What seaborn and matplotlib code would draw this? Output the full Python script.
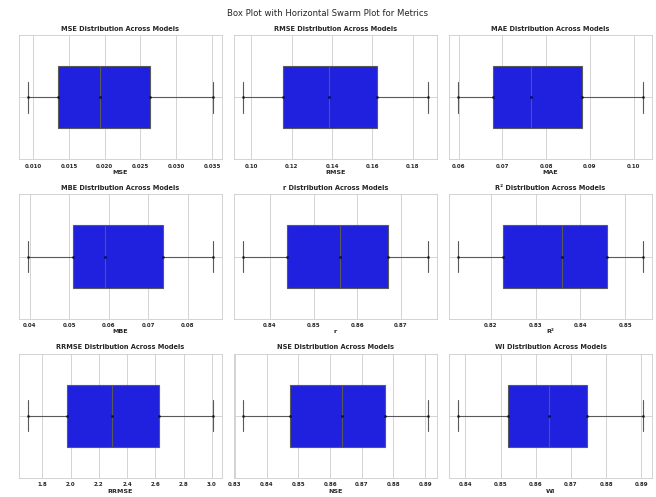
import matplotlib
matplotlib.use("Agg")
import matplotlib.pyplot as plt
import seaborn as sns
import pandas as pd

metrics = ["MSE", "RMSE", "MAE", "MBE", "r", "R²", "RRMSE", "NSE", "WI"]

mse = [0.0093, 0.0135, 0.0193, 0.0264, 0.0351]
rmse = [0.0960, 0.1159, 0.1385, 0.1621, 0.1874]
mae = [0.0599, 0.0678, 0.0765, 0.0881, 0.1021]
mbe = [0.0396, 0.0510, 0.0590, 0.0738, 0.0863]
r_vals = [0.8339, 0.8440, 0.8560, 0.8670, 0.8761]
r2 = [0.8128, 0.8228, 0.8360, 0.8460, 0.8539]
rrmse = [1.701, 1.976, 2.290, 2.626, 3.005]
nse = [0.8326, 0.8472, 0.8637, 0.8772, 0.8908]
wi = [0.8380, 0.8520, 0.8638, 0.8746, 0.8904]

values = [mse, rmse, mae, mbe, r_vals, r2, rrmse, nse, wi]

sns.set_theme(style="whitegrid")

fig, axes = plt.subplots(3, 3, figsize=(6.56, 4.97), dpi=100)
fig.subplots_adjust(left=19 / 656, right=652 / 656, top=1 - 35 / 497,
                    bottom=1 - 478 / 497, wspace=0.06, hspace=0.28)

for ax, name, vals in zip(axes.flat, metrics, values):
    df = pd.DataFrame({name: vals})
    sns.boxplot(data=df, x=name, ax=ax, color="blue", width=0.5,
                linewidth=0.8, linecolor=".35")
    sns.swarmplot(data=df, x=name, ax=ax, color="black", size=2.0,
                  alpha=0.7)
    ax.set_title(f"{name} Distribution Across Models", fontsize=4.8,
                 fontweight="bold", pad=3)
    ax.set_xlabel(name, fontsize=4.6, fontweight="bold", labelpad=1.0)
    ax.tick_params(axis="both", length=0)
    ax.tick_params(axis="x", labelsize=4.0, pad=3)
    for lbl in ax.get_xticklabels():
        lbl.set_fontweight("bold")
    for spine in ax.spines.values():
        spine.set_linewidth(0.6)
    ax.grid(linewidth=0.6)

fig.suptitle("Box Plot with Horizontal Swarm Plot for Metrics", fontsize=6.1,
             y=1 - 9 / 497)
fig.savefig("out.png", dpi=100)
